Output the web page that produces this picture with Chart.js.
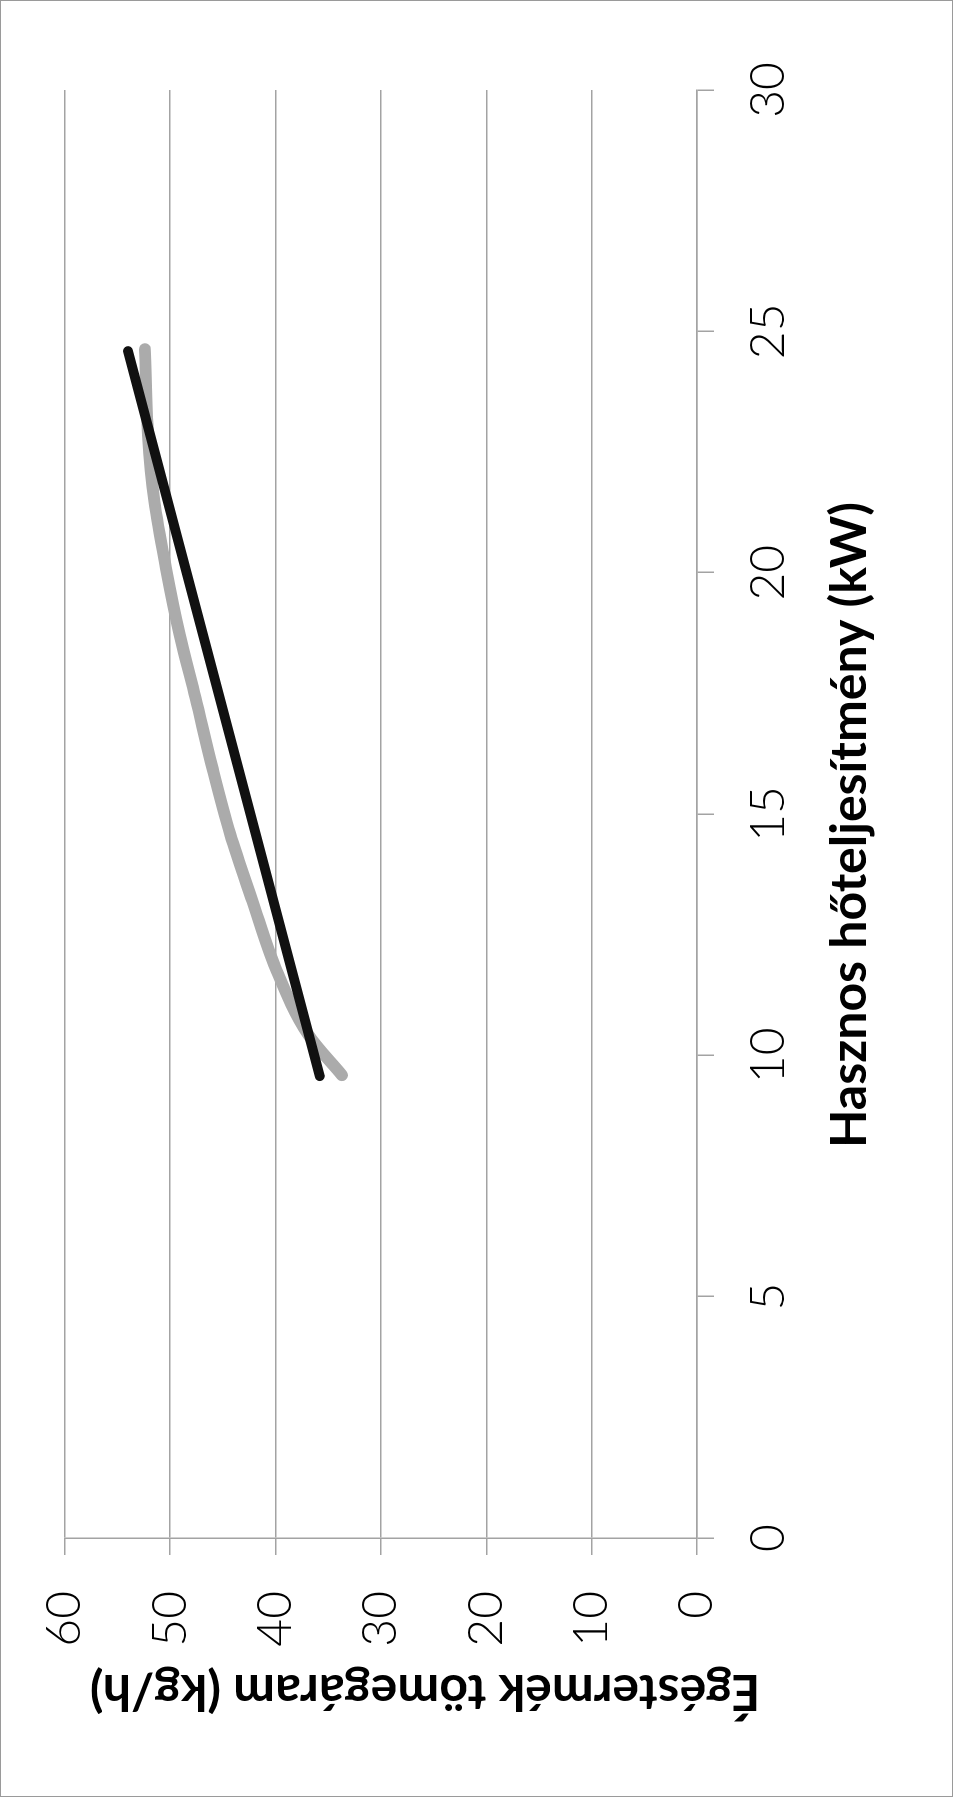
<!DOCTYPE html>
<html>
<head>
<meta charset="utf-8">
<script src="https://cdn.jsdelivr.net/npm/chart.js@4.4.1/dist/chart.umd.min.js"></script>
<style>
html,body{margin:0;padding:0;background:#fff;overflow:hidden;width:953px;height:1797px;}
#wrap{position:absolute;left:0;top:0;width:1797px;height:953px;transform-origin:0 0;transform:translate(0px,1797px) rotate(-90deg);}
</style>
</head>
<body>
<div id="wrap"><canvas id="grafico" width="1797" height="953"></canvas></div>
<script>
// DADOS
const tituloX = "Hasznos hőteljesítmény (kW)";
const tituloY = "Égéstermék tömegáram (kg/h)";

const ticksX = [0,5,10,15,20,25,30];
const ticksY = [0,10,20,30,40,50,60];

// linha preta (reta)
const pretoX = [9.57, 24.59];
const pretoY = [35.8, 54.0];

// linha cinza (curva)
const cinzaX = [9.59, 10.43, 11.81, 13.2, 14.58, 15.96, 17.41, 18.72, 20.1, 21.48, 22.86, 24.63];
const cinzaY = [33.7, 36.9, 40.0, 42.2, 44.3, 46.0, 47.6, 49.1, 50.4, 51.5, 52.1, 52.4];

function pontos(xs, ys){
return xs.map((x,i)=>({x:x, y:ys[i]}));
}

const W = 1797, H = 953;
const CINZA_GRADE = "#a3a3a3";

/* =======================
   FUNDO, BORDA E TÍTULOS
======================= */
const titulos = {
id:"titulos",
beforeDraw(chart){
const c = chart.ctx;
c.save();
c.fillStyle = "#fff";
c.fillRect(0,0,W,H);
c.strokeStyle = "#9a9a9a";
c.lineWidth = 1;
c.strokeRect(0.5,0.5,W-1,H-1);
c.restore();
},
afterDraw(chart){
const c = chart.ctx;
c.save();
c.fillStyle = "#000";
c.font = "bold 50px Lato";
c.textAlign = "center";
c.textBaseline = "alphabetic";
c.fillText(tituloX, 972, 866);
c.translate(122, 425);
c.rotate(-Math.PI/2);
c.fillText(tituloY, 0, 0);
c.restore();
}
};

/* =======================
   GRÁFICO
======================= */
new Chart(document.getElementById("grafico"),{
type:"scatter",
data:{
datasets:[{
data:pontos(pretoX, pretoY),
showLine:true,
borderColor:"#111",
borderWidth:10,
borderCapStyle:"round",
pointRadius:0
},{
data:pontos(cinzaX, cinzaY),
showLine:true,
borderColor:"#ababab",
borderWidth:12,
borderCapStyle:"round",
cubicInterpolationMode:"monotone",
pointRadius:0
}]
},
options:{
responsive:false,
animation:false,
devicePixelRatio:1,
layout:{padding:{top:62,right:90,left:0,bottom:0}},
plugins:{legend:{display:false},tooltip:{enabled:false}},
scales:{
x:{
type:"linear",
min:ticksX[0],
max:ticksX[ticksX.length-1],
afterFit(s){ s.height = 256; },
afterBuildTicks(s){ s.ticks = ticksX.map(v=>({value:v})); },
grid:{drawOnChartArea:false,tickLength:17,tickColor:CINZA_GRADE,lineWidth:1.5},
border:{display:true,color:CINZA_GRADE,width:1.5},
ticks:{color:"#000",padding:26,font:{family:"Lato",size:48,weight:"300"}}
},
y:{
type:"linear",
min:ticksY[0],
max:ticksY[ticksY.length-1],
afterFit(s){ s.width = 259; },
afterBuildTicks(s){ s.ticks = ticksY.map(v=>({value:v})); },
grid:{color:CINZA_GRADE,lineWidth:1.5,tickLength:17,tickColor:CINZA_GRADE},
border:{display:true,color:CINZA_GRADE,width:1.5},
ticks:{color:"#000",padding:36,font:{family:"Lato",size:48,weight:"300"}}
}
}
},
plugins:[titulos]
});
</script>
</body>
</html>
